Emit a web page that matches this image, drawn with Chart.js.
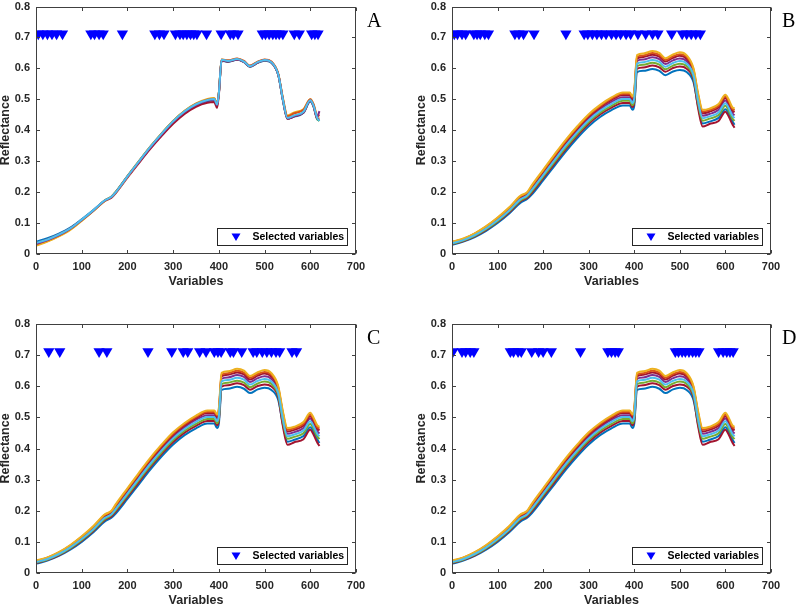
<!DOCTYPE html>
<html>
<head>
<meta charset="utf-8">
<script src="https://cdn.jsdelivr.net/npm/chart.js@4"></script>
<style>
  html, body { margin: 0; padding: 0; background: #fff; }
  body { width: 797px; height: 606px; position: relative; overflow: hidden; }
  canvas { position: absolute; }
</style>
</head>
<body>
<canvas id="chartA" width="400" height="300" style="left:0;top:0"></canvas>
<canvas id="chartB" width="397" height="300" style="left:400px;top:0"></canvas>
<canvas id="chartC" width="400" height="306" style="left:0;top:300px"></canvas>
<canvas id="chartD" width="397" height="306" style="left:400px;top:300px"></canvas>
<script>
// variable positions where the spectra were read
const xs = [1, 25, 50, 75, 100, 125, 150, 165, 175, 200, 225, 250, 275, 300, 325, 350, 375, 390, 396, 400,
  406, 420, 440, 455, 468, 485, 500, 515, 530, 540, 550, 565, 585, 600, 607, 615, 620];

// panel A spectra (narrow spread)
const specA0 = [.040,.051,.066,.085,.112,.141,.172,.184,.201,.250,.297,.343,.385,.425,.457,.480,.494,.497,.480,.518,.625,.621,.628,.620,.605,.618,.625,.618,.578,.497,.437,.444,.456,.493,.477,.436,.432];
const specA1 = [.032,.044,.060,.081,.109,.139,.172,.185,.201,.251,.299,.346,.389,.429,.461,.485,.499,.502,.484,.521,.629,.626,.632,.624,.609,.622,.629,.622,.582,.503,.445,.455,.466,.500,.484,.446,.450];
const specA2 = [.027,.040,.057,.078,.107,.138,.171,.184,.199,.249,.298,.346,.390,.430,.463,.487,.501,.504,.486,.522,.629,.625,.631,.623,.608,.621,.628,.621,.582,.505,.448,.458,.468,.500,.485,.448,.445];
const specA3 = [.033,.045,.061,.082,.110,.140,.172,.184,.200,.250,.297,.344,.387,.427,.459,.482,.496,.499,.481,.519,.627,.623,.629,.621,.606,.619,.626,.619,.579,.499,.438,.446,.458,.496,.480,.442,.462];
const specA4 = [.035,.047,.063,.083,.110,.140,.171,.182,.198,.247,.294,.340,.382,.421,.453,.476,.489,.491,.472,.515,.626,.622,.629,.621,.606,.619,.627,.620,.580,.499,.437,.445,.457,.495,.478,.438,.438];
const specA5 = [.030,.042,.059,.080,.109,.140,.173,.186,.202,.252,.300,.347,.390,.430,.462,.485,.499,.502,.484,.521,.627,.623,.629,.621,.606,.619,.626,.619,.579,.499,.438,.446,.458,.496,.479,.437,.430];
const specA6 = [.036,.047,.063,.083,.111,.141,.173,.185,.201,.251,.299,.346,.389,.429,.461,.484,.498,.501,.483,.520,.628,.624,.630,.622,.607,.620,.627,.620,.580,.500,.440,.448,.460,.497,.480,.440,.430];

// panels B, C, D spectra (wide spread), bottom to top
const specW0 = [.030,.040,.055,.075,.100,.130,.165,.178,.192,.238,.285,.332,.375,.413,.443,.465,.480,.480,.466,.480,.588,.592,.598,.592,.578,.590,.595,.588,.555,.478,.422,.428,.440,.468,.455,.430,.418];
const specW1 = [.032,.042,.057,.078,.104,.134,.170,.182,.198,.245,.292,.340,.383,.421,.451,.473,.488,.488,.475,.490,.599,.603,.6095,.6035,.589,.601,.606,.599,.564,.472,.412,.420,.430,.460,.445,.420,.408];
const specW2 = [.0335,.0435,.059,.080,.106,.137,.173,.186,.2025,.250,.298,.345,.388,.427,.457,.479,.495,.495,.481,.4975,.607,.6115,.618,.612,.597,.609,.615,.607,.571,.4875,.431,.4375,.449,.479,.464,.439,.430];
const specW3 = [.035,.045,.061,.0825,.109,.140,.1765,.189,.207,.255,.3035,.351,.394,.4325,.4625,.4855,.501,.501,.488,.505,.6155,.620,.627,.621,.6055,.6175,.6235,.615,.5775,.495,.439,.445,.4575,.4875,.4725,.4475,.439];
const specW4 = [.0365,.0465,.063,.085,.112,.143,.180,.192,.2115,.260,.309,.357,.400,.438,.468,.492,.507,.507,.495,.5125,.624,.6285,.636,.630,.614,.626,.632,.623,.584,.5025,.447,.4525,.466,.496,.481,.456,.448];
const specW5 = [.038,.048,.065,.087,.114,.146,.183,.196,.216,.265,.315,.362,.405,.444,.474,.498,.514,.514,.501,.520,.632,.637,.644,.638,.622,.634,.641,.631,.591,.510,.455,.460,.474,.504,.489,.464,.458];
const specW6 = [.039,.049,.066,.0885,.116,.148,.186,.198,.219,.269,.318,.366,.409,.448,.478,.502,.518,.518,.506,.525,.6375,.642,.650,.644,.6275,.6395,.646,.637,.5955,.515,.4605,.465,.4795,.5095,.4945,.4695,.464];
const specW7 = [.040,.050,.067,.090,.118,.150,.188,.200,.222,.272,.322,.370,.413,.452,.482,.506,.522,.522,.510,.530,.643,.648,.656,.650,.633,.645,.652,.642,.600,.520,.466,.470,.485,.515,.500,.475,.470];

// selected variables (marker positions along x)
const selectedA = [5, 15, 25, 35, 45, 58, 120, 128, 138, 147, 189, 260, 270, 280, 305, 315, 322, 330, 338, 345, 352,
  373, 405, 425, 432, 442, 495, 502, 510, 518, 525, 532, 540, 565, 576, 603, 610, 617];
const selectedB = [5, 12, 22, 30, 48, 55, 62, 72, 80, 138, 147, 157, 180, 250, 290, 298, 308, 318, 328, 338, 350,
  360, 370, 382, 392, 408, 425, 440, 452, 482, 505, 515, 525, 535, 545];
const selectedC = [28, 52, 138, 155, 245, 297, 322, 332, 358, 372, 390, 398, 405, 425, 432, 450, 475, 483, 495,
  505, 515, 525, 533, 560, 570];
const selectedD = [2, 22, 30, 40, 48, 128, 135, 145, 152, 175, 190, 200, 218, 282, 342, 350, 358, 365, 490, 497,
  505, 512, 520, 528, 535, 542, 585, 595, 603, 610, 617];
const markerLevel = 0.712;

const xTicks = [0, 100, 200, 300, 400, 500, 600, 700];
const yTickLabels = ['0', '0.1', '0.2', '0.3', '0.4', '0.5', '0.6', '0.7', '0.8'];

// MATLAB default line colours
const cBlue = '#0072BD', cOrange = '#D95319', cYellow = '#EDB120', cPurple = '#7E2F8E',
  cGreen = '#77AC30', cLight = '#4DBEEE', cRed = '#A2142F';

// first entry is drawn on top
const spectraA = [[specA6, cLight], [specA3, cPurple], [specA1, cOrange], [specA2, cYellow],
  [specA4, cRed], [specA5, cGreen], [specA0, cBlue]];
const spectraW = [[specW3, cLight], [specW7, cYellow], [specW6, cOrange], [specW5, cRed],
  [specW4, cPurple], [specW2, cGreen], [specW1, cRed], [specW0, cBlue]];

const axisColor = '#404040';
const fontFamily = 'Arial, "Liberation Sans", sans-serif';
Chart.defaults.font.family = fontFamily;
Chart.defaults.color = '#262626';

const framePlugin = {
  id: 'frame',
  afterDraw(chart, args, opts) {
    const {ctx, chartArea: a, scales} = chart;
    ctx.save();
    ctx.strokeStyle = axisColor;
    ctx.lineWidth = 1;
    const L = Math.round(a.left) + 0.5, R = Math.round(a.right) - 0.5;
    const T = Math.round(a.top) + 0.5, B = Math.round(a.bottom) - 0.5;
    ctx.strokeRect(L, T, R - L, B - T);
    // inward ticks on all four sides
    ctx.beginPath();
    xTicks.forEach(v => {
      const px = Math.round(scales.x.getPixelForValue(v)) + 0.5;
      ctx.moveTo(px, B); ctx.lineTo(px, B - 3.5);
      ctx.moveTo(px, T); ctx.lineTo(px, T + 3.5);
    });
    yTickLabels.forEach((s, i) => {
      const py = Math.round(scales.y.getPixelForValue(i / 10)) + 0.5;
      ctx.moveTo(L, py); ctx.lineTo(L + 3.5, py);
      ctx.moveTo(R, py); ctx.lineTo(R - 3.5, py);
    });
    ctx.stroke();

    // legend box
    const bw = 130, bh = 17;
    const bx = Math.round(a.right - 9 - bw) + 0.5, by = Math.round(a.bottom - 9 - bh) + 0.5;
    ctx.fillStyle = '#fff';
    ctx.fillRect(bx, by, bw, bh);
    ctx.strokeStyle = '#262626';
    ctx.strokeRect(bx, by, bw, bh);
    const my = by + bh / 2;
    ctx.fillStyle = '#0000FF';
    ctx.beginPath();
    ctx.moveTo(bx + 14, my - 3.5);
    ctx.lineTo(bx + 23, my - 3.5);
    ctx.lineTo(bx + 18.5, my + 4);
    ctx.closePath();
    ctx.fill();
    ctx.fillStyle = '#000';
    ctx.font = 'bold 10.5px ' + fontFamily;
    ctx.textBaseline = 'middle';
    ctx.textAlign = 'left';
    ctx.fillText('Selected variables', bx + 35, my + 0.5);

    // panel letter
    ctx.font = '20px "Times New Roman", "Liberation Serif", serif';
    ctx.textBaseline = 'alphabetic';
    ctx.fillText(opts.letter, a.right + 11, a.top + 20);
    ctx.restore();
  }
};

function makePanel(id, letter, spectra, selected, pad, yWidth, xHeight, yTitlePad, xTitlePad) {
  const datasets = [{
    data: selected.map(v => ({x: v, y: markerLevel})),
    showLine: false,
    pointStyle: 'triangle',
    rotation: 180,
    pointRadius: 6.5,
    pointBackgroundColor: '#0000FF',
    pointBorderColor: '#0000FF',
    pointBorderWidth: 0,
    clip: 0
  }];
  spectra.forEach(([ys, col]) => {
    datasets.push({
      data: ys.map((y, j) => ({x: xs[j], y: y})),
      borderColor: col,
      borderWidth: 2,
      pointRadius: 0,
      fill: false,
      cubicInterpolationMode: 'monotone'
    });
  });

  return new Chart(document.getElementById(id), {
    type: 'line',
    data: {datasets},
    plugins: [framePlugin],
    options: {
      responsive: false,
      animation: false,
      devicePixelRatio: 1,
      layout: {padding: pad},
      plugins: {
        legend: {display: false},
        tooltip: {enabled: false},
        frame: {letter}
      },
      scales: {
        x: {
          type: 'linear',
          min: 0, max: 700,
          grid: {display: false, drawTicks: false},
          border: {display: false},
          afterBuildTicks: s => { s.ticks = xTicks.map(v => ({value: v})); },
          afterFit: s => { s.height = xHeight; s.paddingLeft = 0; s.paddingRight = 0; },
          ticks: {
            padding: 6,
            font: {size: 11, weight: 'bold'},
            color: '#262626',
            maxRotation: 0,
            callback: v => String(v)
          },
          title: {
            display: true, text: 'Variables',
            font: {size: 12.5, weight: 'bold'},
            color: '#262626',
            padding: {top: 0, bottom: xTitlePad}
          }
        },
        y: {
          min: 0, max: 0.8,
          grid: {display: false, drawTicks: false},
          border: {display: false},
          afterBuildTicks: s => { s.ticks = yTickLabels.map((t, i) => ({value: i / 10})); },
          afterFit: s => { s.width = yWidth; s.paddingTop = 0; s.paddingBottom = 0; },
          ticks: {
            padding: 6,
            font: {size: 11, weight: 'bold'},
            color: '#262626',
            callback: (v) => yTickLabels[Math.round(v * 10)]
          },
          title: {
            display: true, text: 'Reflectance',
            font: {size: 12.5, weight: 'bold'},
            color: '#262626',
            padding: {top: yTitlePad, bottom: 0}
          }
        }
      }
    }
  });
}

makePanel('chartA', 'A', spectraA, selectedA, {left: 0, right: 44, top: 5, bottom: 0}, 36, 46, -1.5, 10.5);
makePanel('chartB', 'B', spectraW, selectedB, {left: 0, right: 26, top: 5, bottom: 0}, 52, 46, 14.5, 10.5);
makePanel('chartC', 'C', spectraW, selectedC, {left: 0, right: 44, top: 24, bottom: 0}, 36, 33, -1.5, -2);
makePanel('chartD', 'D', spectraW, selectedD, {left: 0, right: 26, top: 24, bottom: 0}, 52, 33, 14.5, -2);
</script>
</body>
</html>
